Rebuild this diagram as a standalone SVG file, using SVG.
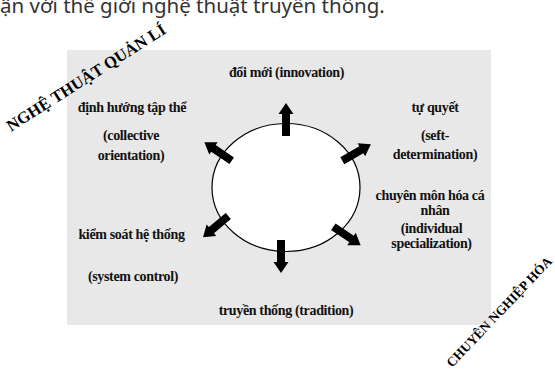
<svg xmlns="http://www.w3.org/2000/svg" xmlns:xlink="http://www.w3.org/1999/xlink" width="555" height="372" viewBox="0 0 555 372">
<style>
.lbl{font-family:"Liberation Serif","Times New Roman",serif;font-weight:bold;font-size:14px;letter-spacing:-0.35px;fill:#111;text-anchor:middle}
.rot{font-family:"Liberation Serif","Times New Roman",serif;font-weight:bold;fill:#000}
.top{font-family:"Noto Sans","Open Sans",sans-serif;font-size:20.5px;fill:#333}
.arr{fill:#000}
</style>
<defs>
<path id="blk" d="M-4,0 L-4,-22 L-7.5,-22 L0,-33 L7.5,-22 L4,-22 L4,0 Z"/>
</defs>
<rect width="555" height="372" fill="#fff"/>
<text class="top" x="0" y="12.5">ận với thế giới nghệ thuật truyền thống.</text>
<rect id="panel" x="67" y="50" width="424" height="275" fill="#e8e8e8"/>
<g id="center"><ellipse cx="286" cy="187.5" rx="74" ry="64" fill="#fff" stroke="#000" stroke-width="1.2"/></g>
<g id="connectors">
<use xlink:href="#blk" class="arr" transform="translate(286,136)"/>
<use xlink:href="#blk" class="arr" transform="translate(231.7,160.7) rotate(-56)"/>
<use xlink:href="#blk" class="arr" transform="translate(342.3,160.7) rotate(60)"/>
<use xlink:href="#blk" class="arr" transform="translate(228.3,216) rotate(-130)"/>
<use xlink:href="#blk" class="arr" transform="translate(333.3,226.7) rotate(124)"/>
<use xlink:href="#blk" class="arr" transform="translate(281,240) rotate(180)"/>
</g>
<g id="n-innovation"><text class="lbl" x="286.5" y="77">đổi mới (innovation)</text></g>
<g id="n-collective"><text class="lbl" x="132" y="112">định hướng tập thể</text><text class="lbl" x="131" y="140">(collective</text><text class="lbl" x="131" y="160">orientation)</text></g>
<g id="n-self"><text class="lbl" x="435" y="112">tự quyết</text><text class="lbl" x="435" y="140">(seft-</text><text class="lbl" x="435" y="159">determination)</text></g>
<g id="n-system"><text class="lbl" x="131.5" y="239">kiểm soát hệ thống</text><text class="lbl" x="133" y="281">(system control)</text></g>
<g id="n-tradition"><text class="lbl" x="286" y="315">truyền thống (tradition)</text></g>
<g id="n-individual"><text class="lbl" x="430" y="200">chuyên môn hóa cá</text><text class="lbl" x="435" y="215">nhân</text><text class="lbl" x="431.5" y="233">(individual</text><text class="lbl" x="431.5" y="248">specialization)</text></g>
<g id="t-nghethuat"><text class="rot" font-size="16.5" transform="translate(11,132) rotate(-32.5)">NGHỆ THUẬT QUẢN LÍ</text></g>
<g id="t-chuyennghiep"><text class="rot" font-size="13.3" transform="translate(452,368) rotate(-46.4)">CHUYÊN NGHIỆP HÓA</text></g>
</svg>
